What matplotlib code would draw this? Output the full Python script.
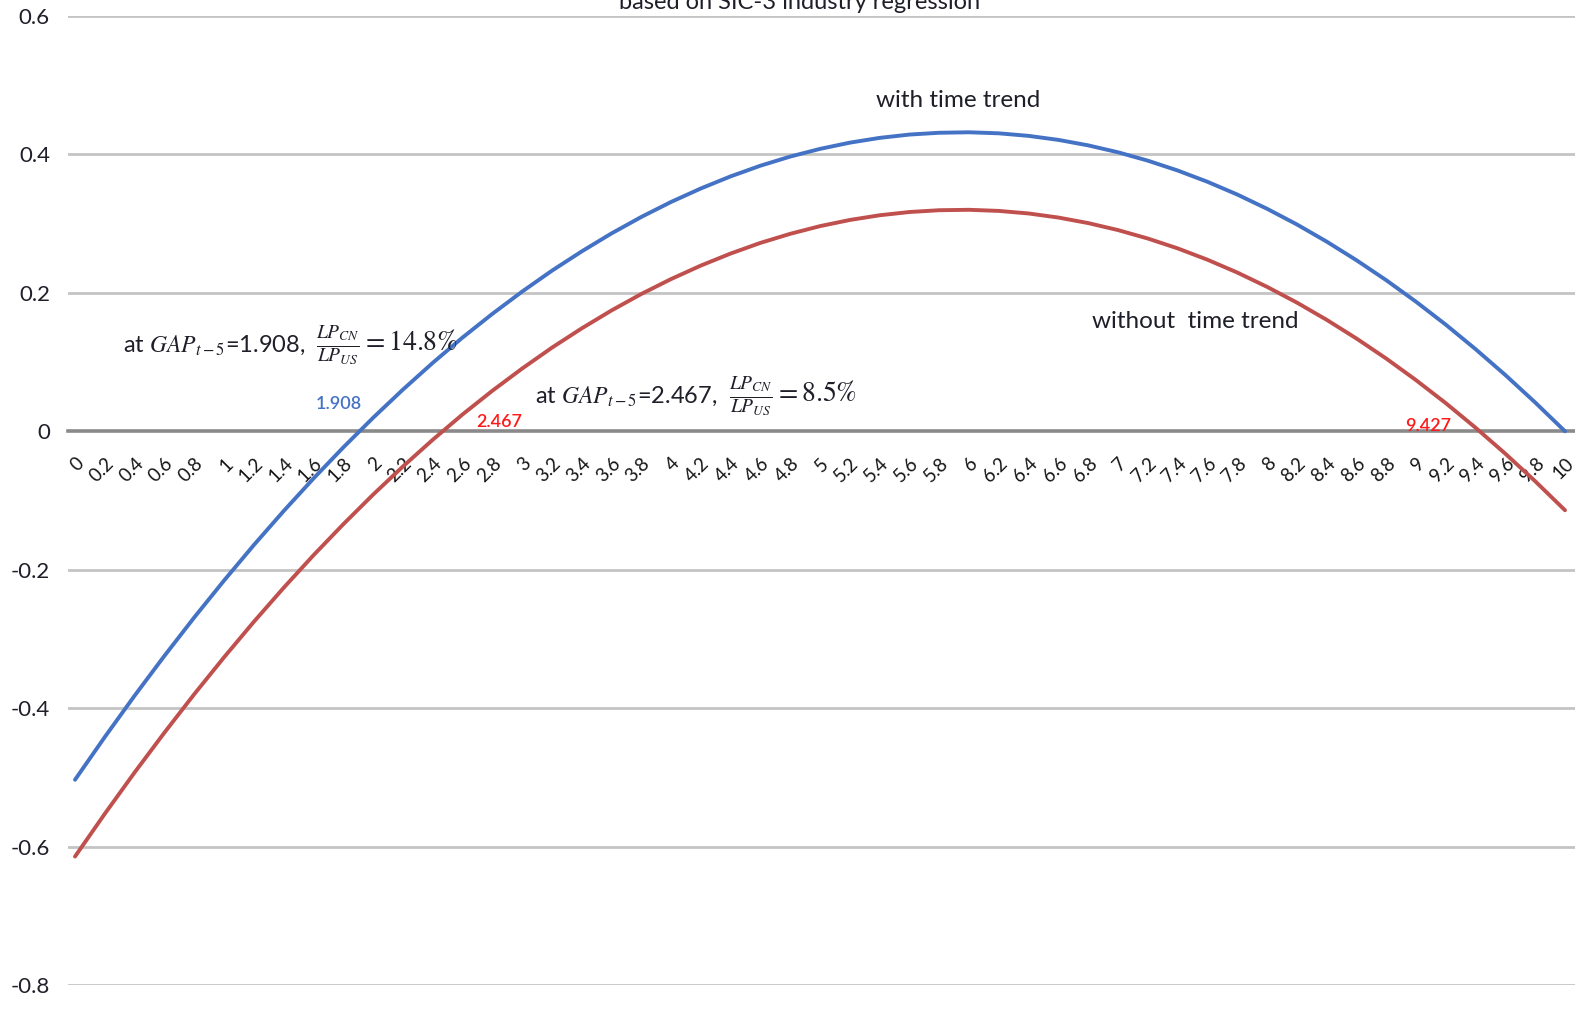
import numpy as np
import matplotlib.pyplot as plt

# GAP_{t-5} categories 0, 0.2, ..., 10
gap = [round(0.2 * i, 1) for i in range(51)]
gap_labels = [f"{g:g}" for g in gap]

# effect
with_trend = [-0.5035, -0.4417, -0.3820, -0.3245, -0.2690, -0.2157, -0.1644, -0.1153,
              -0.0683, -0.0234, 0.0194, 0.0601, 0.0987, 0.1353, 0.1695, 0.2017,
              0.2319, 0.2598, 0.2858, 0.3096, 0.3313, 0.3508, 0.3683, 0.3837,
              0.3969, 0.4080, 0.4170, 0.4239, 0.4287, 0.4313, 0.4320, 0.4305,
              0.4268, 0.4210, 0.4131, 0.4031, 0.3910, 0.3768, 0.3605, 0.3421,
              0.3215, 0.2989, 0.2741, 0.2472, 0.2183, 0.1872, 0.1540, 0.1186,
              0.0812, 0.0416, 0.0000]
without_trend = [-0.6144, -0.5526, -0.4929, -0.4354, -0.3799, -0.3266, -0.2753, -0.2262,
                 -0.1792, -0.1344, -0.0916, -0.0510, -0.0124, 0.0242, 0.0584, 0.0905,
                 0.1207, 0.1486, 0.1745, 0.1983, 0.2199, 0.2394, 0.2568, 0.2722,
                 0.2853, 0.2964, 0.3053, 0.3121, 0.3168, 0.3194, 0.3200, 0.3184,
                 0.3147, 0.3088, 0.3008, 0.2907, 0.2785, 0.2643, 0.2479, 0.2294,
                 0.2087, 0.1860, 0.1611, 0.1341, 0.1051, 0.0739, 0.0406, 0.0051,
                 -0.0325, -0.0722, -0.1141]
yticks = [0.6, 0.4, 0.2, 0, -0.2, -0.4, -0.6, -0.8]
ytick_labels = ["0.6", "0.4", "0.2", "0", "-0.2", "-0.4", "-0.6", "-0.8"]

plt.rcParams['font.family'] = ['Lato', 'DejaVu Sans']
plt.rcParams['mathtext.fontset'] = 'stix'

TXT = '#1f1f2a'
BLUE = '#4472C4'
RED = '#C0504D'

fig = plt.figure(figsize=(15.75, 10.11), dpi=100)
ax = fig.add_axes([68 / 1575, 26 / 1011, 1 - 68 / 1575, 969 / 1011])

ax.plot(gap, with_trend, color=BLUE, lw=2.8, zorder=3, solid_capstyle='round')
ax.plot(gap, without_trend, color=RED, lw=2.8, zorder=3, solid_capstyle='round')

ax.set_ylim(-0.8, 0.6)
ax.set_xlim(-0.047, 10.067)
ax.set_yticks(yticks)
ax.set_yticklabels(ytick_labels)
ax.set_xticks(gap)
ax.set_xticklabels(gap_labels)

for t in yticks:
    if t != 0:
        ax.axhline(t, color='#c4c4c4', lw=2.0, zorder=1)

for s in ['top', 'right', 'left']:
    ax.spines[s].set_visible(False)
ax.spines['bottom'].set_position(('data', 0))
ax.spines['bottom'].set_color('#8a8a8a')
ax.spines['bottom'].set_linewidth(2.6)
ax.spines['bottom'].set_zorder(2)

ax.tick_params(axis='y', length=0, pad=13, labelsize=16, labelcolor=TXT)
ax.tick_params(axis='x', length=0, pad=17, labelsize=13.5, labelcolor='#151515',
               labelrotation=45)
for lbl in ax.get_xticklabels():
    lbl.set_ha('right')
    lbl.set_va('top')
    lbl.set_rotation_mode('anchor')

# chart title, cut by the top edge as in the source
fig.text(800 / 1575, 1 - 9 / 1011, "based on SIC-3 industry regression",
         ha='center', va='baseline', fontsize=17, color=TXT)

ax.text(5.93, 0.478, "with time trend", ha='center', va='center', fontsize=17.5, color=TXT)
ax.text(7.52, 0.159, "without  time trend", ha='center', va='center', fontsize=17.5, color=TXT)

# annotations at the two roots
ax.text(0.32, 0.124, r"at $GAP_{t-5}$=1.908,", ha='left', va='center', fontsize=17, color=TXT)
ax.text(1.62, 0.124, r"$\frac{LP_{CN}}{LP_{US}} = 14.8\%$", ha='left', va='center',
        fontsize=20, color=TXT)
ax.text(3.09, 0.0505, r"at $GAP_{t-5}$=2.467,", ha='left', va='center', fontsize=17, color=TXT)
ax.text(4.39, 0.0505, r"$\frac{LP_{CN}}{LP_{US}} = 8.5\%$", ha='left', va='center',
        fontsize=20, color=TXT)

ax.text(1.77, 0.04, "1.908", ha='center', va='center', fontsize=13, color=BLUE,
        fontweight='semibold')
ax.text(2.85, 0.014, "2.467", ha='center', va='center', fontsize=13, color='#ff1a1a',
        fontweight='semibold')
ax.text(9.08, 0.008, "9.427", ha='center', va='center', fontsize=13, color='#ff1a1a',
        fontweight='semibold')

fig.savefig("out.png", dpi=100, facecolor='white')
